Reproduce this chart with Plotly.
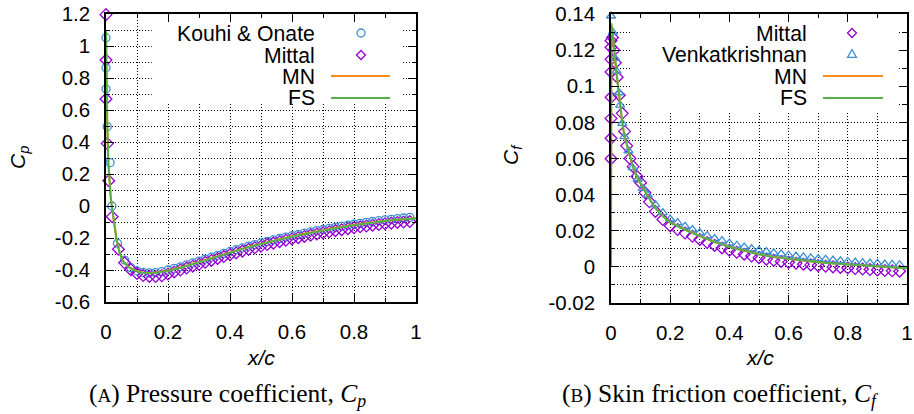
import plotly.graph_objects as go

W, H = 914, 414

# ---------------- data: pressure coefficient ----------------
cp_kouhi_x = [0.0, 0.0, 0.0, 0.004, 0.013, 0.019, 0.037, 0.06,
              0.08, 0.10, 0.12, 0.14, 0.16, 0.18, 0.20, 0.22, 0.24, 0.26, 0.28, 0.30,
              0.32, 0.34, 0.36, 0.38, 0.40, 0.42, 0.44, 0.46, 0.48, 0.50, 0.52, 0.54,
              0.56, 0.58, 0.60, 0.62, 0.64, 0.66, 0.68, 0.70, 0.72, 0.74, 0.76, 0.78,
              0.80, 0.82, 0.84, 0.86, 0.88, 0.90, 0.92, 0.94, 0.96, 0.98]
cp_kouhi_y = [1.052, 0.864, 0.731, 0.496, 0.271, 0.0, -0.233, -0.338,
              -0.385, -0.405, -0.415, -0.418, -0.416, -0.41, -0.4, -0.39, -0.38, -0.368, -0.356, -0.344,
              -0.332, -0.32, -0.308, -0.296, -0.284, -0.273, -0.262, -0.251, -0.241, -0.231, -0.221, -0.212,
              -0.203, -0.194, -0.186, -0.178, -0.17, -0.162, -0.154, -0.147, -0.14, -0.133, -0.126, -0.12,
              -0.114, -0.108, -0.102, -0.097, -0.092, -0.087, -0.083, -0.079, -0.075, -0.071]

cp_mittal_x = [0.0, 0.0, 0.0, 0.004, 0.009, 0.02, 0.04, 0.06,
               0.08, 0.10, 0.12, 0.14, 0.16, 0.18, 0.20, 0.22, 0.24, 0.26, 0.28, 0.30,
               0.32, 0.34, 0.36, 0.38, 0.40, 0.42, 0.44, 0.46, 0.48, 0.50, 0.52, 0.54,
               0.56, 0.58, 0.60, 0.62, 0.64, 0.66, 0.68, 0.70, 0.72, 0.74, 0.76, 0.78,
               0.80, 0.82, 0.84, 0.86, 0.88, 0.90, 0.92, 0.94, 0.96, 0.98]
cp_mittal_y = [1.196, 0.913, 0.669, 0.39, 0.158, -0.067, -0.27, -0.355,
               -0.398, -0.422, -0.435, -0.44, -0.441, -0.436, -0.425, -0.412, -0.4, -0.388, -0.376, -0.364,
               -0.352, -0.34, -0.328, -0.316, -0.304, -0.293, -0.282, -0.271, -0.261, -0.251, -0.241, -0.232,
               -0.223, -0.214, -0.206, -0.198, -0.19, -0.182, -0.175, -0.168, -0.161, -0.154, -0.148, -0.142,
               -0.136, -0.13, -0.125, -0.12, -0.115, -0.111, -0.107, -0.103, -0.1, -0.097]

cp_line_x = [0.0, 0.001, 0.002, 0.004, 0.0075, 0.011, 0.015, 0.02, 0.027, 0.035, 0.045, 0.055,
             0.07, 0.09, 0.11, 0.13, 0.15, 0.18, 0.2, 0.25, 0.3, 0.35, 0.4, 0.45, 0.5, 0.55,
             0.6, 0.65, 0.7, 0.75, 0.8, 0.85, 0.9, 0.95, 1.0]
cp_fs_y = [1.1, 0.9, 0.72, 0.52, 0.27, 0.15, 0.06, -0.02, -0.12, -0.22, -0.3, -0.345,
           -0.378, -0.402, -0.415, -0.421, -0.421, -0.414, -0.406, -0.381, -0.352, -0.321, -0.291, -0.263, -0.238, -0.214,
           -0.192, -0.172, -0.153, -0.136, -0.12, -0.106, -0.094, -0.085, -0.078]
cp_mn_y = [1.1, 0.9, 0.72, 0.52, 0.27, 0.15, 0.06, -0.02, -0.12, -0.22, -0.3, -0.344,
           -0.376, -0.399, -0.412, -0.418, -0.418, -0.411, -0.403, -0.378, -0.349, -0.318, -0.288, -0.26, -0.235, -0.211,
           -0.189, -0.169, -0.15, -0.133, -0.117, -0.104, -0.092, -0.083, -0.076]

# ---------------- data: skin friction coefficient ----------------
cf_mittal_x = [0.0, 0.0, 0.0, 0.0, 0.0, 0.0, 0.0, 0.0,
               0.005, 0.01, 0.015, 0.021, 0.028, 0.038, 0.046, 0.053, 0.064, 0.075, 0.088, 0.1, 0.115, 0.13,
               0.15, 0.175, 0.2, 0.225, 0.25, 0.275, 0.3, 0.325, 0.35, 0.375, 0.4, 0.425, 0.45, 0.475,
               0.5, 0.525, 0.55, 0.575, 0.6, 0.625, 0.65, 0.675, 0.7, 0.725, 0.75, 0.775, 0.8, 0.825,
               0.85, 0.875, 0.9, 0.925, 0.95, 0.975]
cf_mittal_y = [0.1252, 0.1216, 0.1149, 0.1079, 0.0939, 0.0822, 0.0712, 0.0599,
               0.127, 0.12, 0.113, 0.105, 0.095, 0.085, 0.075, 0.067, 0.06, 0.0555, 0.05, 0.0466, 0.041, 0.036,
               0.0307, 0.0262, 0.0227, 0.0207, 0.0187, 0.0169, 0.0152, 0.0135, 0.0119, 0.0105, 0.0092, 0.0081, 0.007, 0.006,
               0.0051, 0.0043, 0.0036, 0.003, 0.0025, 0.002, 0.0015, 0.0011, 0.0007, 0.0003, 0.0, -0.0003, -0.0006, -0.0009,
               -0.0012, -0.0015, -0.0017, -0.002, -0.0022, -0.0024]

cf_venkat_x = [0.0, 0.006, 0.0135, 0.019, 0.027, 0.031, 0.038, 0.045, 0.059, 0.073, 0.09, 0.107, 0.124,
               0.15, 0.175, 0.2, 0.225, 0.25, 0.275, 0.3, 0.325, 0.35, 0.375, 0.4, 0.425, 0.45, 0.475,
               0.5, 0.525, 0.55, 0.575, 0.6, 0.625, 0.65, 0.675, 0.7, 0.725, 0.75, 0.775, 0.8, 0.825,
               0.85, 0.875, 0.9, 0.925, 0.95, 0.975]
cf_venkat_y = [0.1389, 0.1299, 0.1155, 0.1084, 0.0964, 0.0896, 0.0795, 0.0721, 0.0643, 0.0549, 0.0485, 0.0435, 0.0398,
               0.0345, 0.03, 0.0265, 0.0245, 0.0225, 0.0207, 0.019, 0.0173, 0.0157, 0.0145, 0.0132, 0.012, 0.011, 0.0101,
               0.0092, 0.0085, 0.0078, 0.0072, 0.0066, 0.006, 0.0055, 0.005, 0.0046, 0.0042, 0.0038, 0.0034, 0.003, 0.0027,
               0.0024, 0.0021, 0.0019, 0.0016, 0.0014, 0.0012]

cf_line_x = [0.0, 0.001, 0.006, 0.013, 0.019, 0.027, 0.031, 0.038, 0.045, 0.059, 0.073, 0.09, 0.1,
             0.125, 0.15, 0.175, 0.2, 0.25, 0.3, 0.35, 0.4, 0.45, 0.5, 0.55, 0.6, 0.65, 0.7, 0.75,
             0.8, 0.85, 0.9, 0.95, 1.0]
cf_fs_y = [0.0, 0.135, 0.129, 0.116, 0.107, 0.096, 0.09, 0.08, 0.073, 0.064, 0.056, 0.049, 0.046,
           0.039, 0.0325, 0.028, 0.0245, 0.0205, 0.017, 0.0137, 0.011, 0.0088, 0.0069, 0.0054, 0.0043, 0.0033, 0.0025, 0.0018,
           0.0012, 0.0006, 0.0001, -0.0004, -0.0008]
cf_mn_y = [0.0, 0.134, 0.128, 0.115, 0.106, 0.0955, 0.0895, 0.0797, 0.0728, 0.0638, 0.0559, 0.0489, 0.0459,
           0.039, 0.0326, 0.0281, 0.0246, 0.0206, 0.0171, 0.0138, 0.0111, 0.0089, 0.007, 0.0055, 0.0044, 0.0034, 0.0026, 0.0019,
           0.0013, 0.0007, 0.0002, -0.0003, -0.0007]

# ---------------- ticks ----------------
x_tickvals = [0, 0.2, 0.4, 0.6, 0.8, 1.0]
x_ticktext = ["0", "0.2", "0.4", "0.6", "0.8", "1"]
x_minorvals = [0.1, 0.3, 0.5, 0.7, 0.9]
cp_tickvals = [-0.6, -0.4, -0.2, 0, 0.2, 0.4, 0.6, 0.8, 1.0, 1.2]
cp_ticktext = ["-0.6", "-0.4", "-0.2", "0", "0.2", "0.4", "0.6", "0.8", "1", "1.2"]
cp_minorvals = [-0.5, -0.3, -0.1, 0.1, 0.3, 0.5, 0.7, 0.9, 1.1]
cf_tickvals = [-0.02, 0, 0.02, 0.04, 0.06, 0.08, 0.1, 0.12, 0.14]
cf_ticktext = ["-0.02", "0", "0.02", "0.04", "0.06", "0.08", "0.1", "0.12", "0.14"]
cf_minorvals = [-0.01, 0.01, 0.03, 0.05, 0.07, 0.09, 0.11, 0.13]

# ---------------- styles ----------------
BLUE = "#3d8fd4"
PURPLE = "#9400d3"
ORANGE = "#ff8c1a"
GREEN = "#55b04a"
SANS = "Liberation Sans, Arial, sans-serif"
SERIF = "Liberation Serif, Times New Roman, serif"
FS_TICK = 20.5
FS_KEY = 21.2


def PX(x):
    """window pixel -> paper fraction"""
    return x / W


def PY(y):
    return 1 - y / H


fig = go.Figure()

mk = dict(size=8, line=dict(width=1.3))
fig.add_trace(go.Scatter(x=cp_kouhi_x, y=cp_kouhi_y, mode="markers", xaxis="x", yaxis="y",
                         marker=dict(symbol="circle-open", color=BLUE, **mk), cliponaxis=False))
fig.add_trace(go.Scatter(x=cp_mittal_x, y=cp_mittal_y, mode="markers", xaxis="x", yaxis="y",
                         marker=dict(symbol="diamond-open", color=PURPLE, size=9, line=dict(width=1.3)), cliponaxis=False))
fig.add_trace(go.Scatter(x=cp_line_x, y=cp_mn_y, mode="lines", xaxis="x", yaxis="y",
                         line=dict(color=ORANGE, width=2), cliponaxis=False))
fig.add_trace(go.Scatter(x=cp_line_x, y=cp_fs_y, mode="lines", xaxis="x", yaxis="y",
                         line=dict(color=GREEN, width=2), cliponaxis=False))

fig.add_trace(go.Scatter(x=cf_mittal_x, y=cf_mittal_y, mode="markers", xaxis="x2", yaxis="y2",
                         marker=dict(symbol="diamond-open", color=PURPLE, size=9, line=dict(width=1.3)), cliponaxis=False))
fig.add_trace(go.Scatter(x=cf_venkat_x, y=cf_venkat_y, mode="markers", xaxis="x2", yaxis="y2",
                         marker=dict(symbol="triangle-up-open", color=BLUE, **mk), cliponaxis=False))
fig.add_trace(go.Scatter(x=cf_line_x, y=cf_mn_y, mode="lines", xaxis="x2", yaxis="y2",
                         line=dict(color=ORANGE, width=2), cliponaxis=False))
fig.add_trace(go.Scatter(x=cf_line_x, y=cf_fs_y, mode="lines", xaxis="x2", yaxis="y2",
                         line=dict(color=GREEN, width=2), cliponaxis=False))


def axis(domain, rng, tickvals, ticktext, minorvals, anchor, standoff):
    return dict(
        domain=domain, range=rng, anchor=anchor, automargin=False,
        tickmode="array", tickvals=tickvals, ticktext=ticktext,
        showline=True, linecolor="black", linewidth=1.5, mirror="ticks",
        ticks="inside", ticklen=8, tickwidth=1.2, tickcolor="black",
        showgrid=True, gridcolor="black", gridwidth=1, griddash="1px,2px",
        zeroline=False, ticklabelstandoff=standoff, ticklabeloverflow="allow",
        tickfont=dict(family=SANS, size=FS_TICK, color="black"),
        minor=dict(tickmode="array", tickvals=minorvals, ticks="inside", ticklen=4,
                   tickwidth=1.2, tickcolor="black", showgrid=True, gridcolor="black",
                   gridwidth=1, griddash="1px,2px"),
        layer="above traces",
    )


fig.update_layout(
    width=W, height=H, autosize=False,
    margin=dict(l=0, r=0, t=0, b=0, pad=0, autoexpand=False),
    paper_bgcolor="white", plot_bgcolor="white",
    showlegend=False,
    xaxis=axis([PX(106), PX(416)], [0, 1], x_tickvals, x_ticktext, x_minorvals, "y", 11),
    yaxis=axis([PY(302), PY(14)], [-0.6, 1.2], cp_tickvals, cp_ticktext, cp_minorvals, "x", 10),
    xaxis2=axis([PX(611), PX(907)], [0, 1], x_tickvals, x_ticktext, x_minorvals, "y2", 11),
    yaxis2=axis([PY(303), PY(14)], [-0.02, 0.14], cf_tickvals, cf_ticktext, cf_minorvals, "x2", 10),
)

shapes = []
annotations = []

# legend backgrounds (opaque key boxes hide the grid)
shapes.append(dict(type="rect", xref="x", yref="y", x0=0.148, x1=0.958, y0=0.64, y1=1.2,
                   fillcolor="white", line=dict(width=0), layer="between"))
shapes.append(dict(type="rect", xref="x2", yref="y2", x0=0.064, x1=0.968, y0=0.0855, y1=0.14,
                   fillcolor="white", line=dict(width=0), layer="between"))


def text(x, y, s, anchor="right", size=FS_KEY, family=SANS, angle=0):
    annotations.append(dict(xref="paper", yref="paper", x=PX(x), y=PY(y), text=s,
                            showarrow=False, xanchor=anchor, yanchor="middle", textangle=angle,
                            font=dict(family=family, size=size, color="black")))


def circle(cx, cy, r, color):
    shapes.append(dict(type="circle", xref="paper", yref="paper", x0=PX(cx - r), x1=PX(cx + r),
                       y0=PY(cy + r), y1=PY(cy - r), line=dict(color=color, width=1.3)))


def diamond(cx, cy, r, color):
    p = "M {},{} L {},{} L {},{} L {},{} Z".format(PX(cx), PY(cy - r), PX(cx + r), PY(cy), PX(cx), PY(cy + r), PX(cx - r), PY(cy))
    shapes.append(dict(type="path", xref="paper", yref="paper", path=p, line=dict(color=color, width=1.3)))


def triangle(cx, cy, r, color):
    p = "M {},{} L {},{} L {},{} Z".format(PX(cx), PY(cy - r), PX(cx + r), PY(cy + r * 0.75), PX(cx - r), PY(cy + r * 0.75))
    shapes.append(dict(type="path", xref="paper", yref="paper", path=p, line=dict(color=color, width=1.3)))


def hline(x0, x1, y, color):
    shapes.append(dict(type="line", xref="paper", yref="paper", x0=PX(x0), x1=PX(x1), y0=PY(y), y1=PY(y),
                       line=dict(color=color, width=2)))


# legend (a)
text(317, 33, "Kouhi &amp; Onate")
text(317, 55, "Mittal")
text(317, 76, "MN")
text(317, 98, "FS")
circle(361, 33, 4, BLUE)
diamond(361, 55, 4.5, PURPLE)
hline(331, 390, 76, ORANGE)
hline(331, 390, 98, GREEN)

# legend (b)
text(809, 33, "Mittal")
text(809, 54, "Venkatkrishnan")
text(809, 76, "MN")
text(809, 98, "FS")
diamond(852, 33, 4.5, PURPLE)
triangle(852, 54, 4.5, BLUE)
hline(823, 883, 76, ORANGE)
hline(823, 883, 98, GREEN)

# axis titles
text(261, 357, "<i>x/c</i>", anchor="center", size=21)
text(760, 357, "<i>x/c</i>", anchor="center", size=21)
text(19, 158, "<i>C<sub>p</sub></i>", anchor="center", size=21, angle=-90)
text(512, 155, "<i>C<sub>f</sub></i>", anchor="center", size=21, angle=-90)

# captions
text(227, 395, "(<span style='font-size:19px'>A</span>) Pressure coefficient, <i>C<sub>p</sub></i>",
     anchor="center", size=25.5, family=SERIF)
text(720, 395, "(<span style='font-size:19px'>B</span>) Skin friction coefficient, <i>C<sub>f</sub></i>",
     anchor="center", size=25.5, family=SERIF)

fig.update_layout(shapes=shapes, annotations=annotations)

# the page's default 8 px body margin would push the figure off the window
fig.write_html("out.html", config={"displayModeBar": False},
               post_script="document.body.style.margin='0px';")
